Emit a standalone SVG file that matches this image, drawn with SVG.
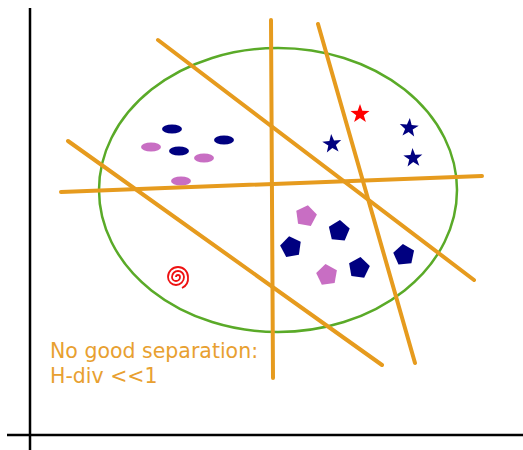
<svg xmlns="http://www.w3.org/2000/svg" xmlns:xlink="http://www.w3.org/1999/xlink" width="523" height="450" viewBox="0 0 523 450">
<style>
.axis{stroke:#000;stroke-width:2.5;fill:none}
.sep{stroke:#e69b1e;stroke-width:4;stroke-linecap:round;fill:none}
.navy{fill:#000080}
.pink{fill:#c86ec3}
.red{fill:#ff0000}
.lbl{font-family:"DejaVu Sans",sans-serif;font-size:20.5px;fill:#e8a030}
</style>
<defs>
<path id="star" d="M0,-10 L2.35,-3.24 L9.51,-3.09 L3.8,1.24 L5.88,8.09 L0,4 L-5.88,8.09 L-3.8,1.24 L-9.51,-3.09 L-2.35,-3.24 Z"/>
<path id="pent" d="M0,-11 L10.46,-3.4 L6.47,8.9 L-6.47,8.9 L-10.46,-3.4 Z"/>
</defs>
<rect width="523" height="450" fill="#fff"/>
<g id="axes">
<line class="axis" x1="30" y1="8" x2="30" y2="450"/>
<line class="axis" x1="7" y1="435" x2="523" y2="435"/>
</g>
<g id="domain">
<ellipse cx="278" cy="190" rx="179" ry="142" fill="none" stroke="#5aaa28" stroke-width="2.5"/>
</g>
<g id="ellipses">
<ellipse class="navy" cx="172" cy="129" rx="10" ry="4.5"/>
<ellipse class="navy" cx="224" cy="140" rx="10" ry="4.5"/>
<ellipse class="navy" cx="179" cy="151" rx="10" ry="4.5"/>
<ellipse class="pink" cx="151" cy="147" rx="10" ry="4.5"/>
<ellipse class="pink" cx="204" cy="158" rx="10" ry="4.5"/>
<ellipse class="pink" cx="181" cy="181" rx="10" ry="4.5"/>
</g>
<g id="stars">
<use xlink:href="#star" class="red" transform="translate(360,114)"/>
<use xlink:href="#star" class="navy" transform="translate(332,144) rotate(-5)"/>
<use xlink:href="#star" class="navy" transform="translate(409,128) rotate(5)"/>
<use xlink:href="#star" class="navy" transform="translate(413,158) rotate(-3)"/>
</g>
<g id="pentagons">
<use xlink:href="#pent" class="pink" transform="translate(306,216) rotate(10)"/>
<use xlink:href="#pent" class="pink" transform="translate(327,275) rotate(-8)"/>
<use xlink:href="#pent" class="navy" transform="translate(339,231) rotate(5)"/>
<use xlink:href="#pent" class="navy" transform="translate(291,247) rotate(-10)"/>
<use xlink:href="#pent" class="navy" transform="translate(359,268) rotate(8)"/>
<use xlink:href="#pent" class="navy" transform="translate(404,255) rotate(-6)"/>
</g>
<g id="spiral">
<path d="M176,277 A2,2 0 0 1 180,277 A4,4 0 0 1 172,277 A6,6 0 0 1 184,277 A8,8 0 0 1 168,277 A10,10 0 0 1 188,277 A11,11 0 0 1 182,288" fill="none" stroke="#ee1111" stroke-width="1.8"/>
</g>
<g id="connectors">
<line class="sep" x1="271" y1="20" x2="273" y2="378"/>
<line class="sep" x1="318" y1="24" x2="415" y2="363"/>
<line class="sep" x1="158" y1="40" x2="474" y2="280"/>
<line class="sep" x1="68" y1="141" x2="382" y2="365"/>
<line class="sep" x1="61" y1="192" x2="482" y2="176"/>
</g>
<g id="label">
<text class="lbl" x="50" y="358">No good separation:</text>
<text class="lbl" x="50" y="383">H-div &lt;&lt;1</text>
</g>
</svg>
